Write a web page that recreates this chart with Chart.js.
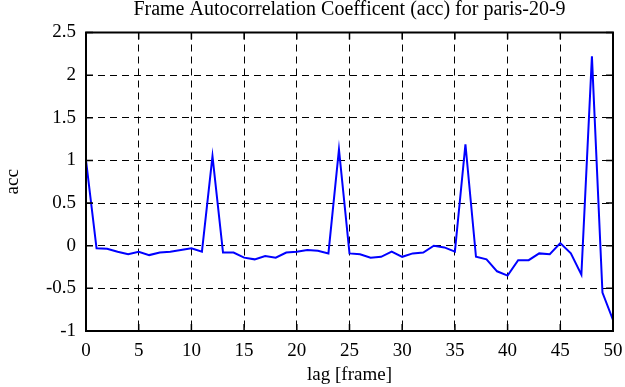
<!DOCTYPE html>
<html>
<head>
<meta charset="utf-8">
<script src="https://cdn.jsdelivr.net/npm/chart.js@4/dist/chart.umd.min.js"></script>
<style>
  html, body { margin: 0; padding: 0; background: #fff; }
  #wrap { width: 625px; height: 387px; }
</style>
</head>
<body>
<div id="wrap"><canvas id="accChart" width="625" height="387"></canvas></div>
<script>
// lag values (frames) and autocorrelation
var lags = [0, 1, 2, 3, 4, 5, 6, 7, 8, 9, 10, 11, 12, 13, 14, 15, 16, 17, 18, 19, 20,
            21, 22, 23, 24, 25, 26, 27, 28, 29, 30, 31, 32, 33, 34, 35, 36, 37, 38, 39, 40,
            41, 42, 43, 44, 45, 46, 47, 48, 49, 50]
var acc = [1.0, -0.03, -0.035, -0.07, -0.1, -0.07, -0.11, -0.08, -0.07, -0.05, -0.03,
           -0.07, 1.05, -0.08, -0.08, -0.14, -0.16, -0.12, -0.14, -0.08, -0.07,
           -0.05, -0.06, -0.09, 1.13, -0.09, -0.1, -0.14, -0.13, -0.07, -0.13,
           -0.09, -0.08, 0.0, -0.02, -0.07, 1.19, -0.13, -0.16, -0.3, -0.35,
           -0.17, -0.17, -0.09, -0.1, 0.03, -0.09, -0.34, 2.22, -0.55, -0.87]
var xTicks = [0, 5, 10, 15, 20, 25, 30, 35, 40, 45, 50]
var yTicks = [-1, -0.5, 0, 0.5, 1, 1.5, 2, 2.5]
var chartTitle = 'Frame Autocorrelation Coefficent (acc) for paris-20-9'

var fontFamily = "'Liberation Serif', 'Times New Roman', serif"
var serif = { family: fontFamily, size: 19, weight: 'normal' }

var points = lags.map(function (l, i) { return { x: l, y: acc[i] } })

// frame around the plot area, inward tick marks on all four sides,
// and the title centred over the plot area (not the whole canvas)
var framePlugin = {
  id: 'frame',
  afterDraw: function (chart) {
    var ctx = chart.ctx
    var a = chart.chartArea
    var xs = chart.scales.x
    var ys = chart.scales.y
    var len = 7
    ctx.save()
    ctx.strokeStyle = '#000'
    ctx.lineWidth = 2
    ctx.setLineDash([])
    ctx.strokeRect(a.left, a.top, a.right - a.left, a.bottom - a.top)
    ctx.lineWidth = 1.5
    ctx.beginPath()
    xTicks.forEach(function (v) {
      var px = xs.getPixelForValue(v)
      ctx.moveTo(px, a.bottom); ctx.lineTo(px, a.bottom - len)
      ctx.moveTo(px, a.top); ctx.lineTo(px, a.top + len)
    })
    yTicks.forEach(function (v) {
      var py = ys.getPixelForValue(v)
      ctx.moveTo(a.left, py); ctx.lineTo(a.left + len, py)
      ctx.moveTo(a.right, py); ctx.lineTo(a.right - len, py)
    })
    ctx.stroke()

    ctx.fillStyle = '#000'
    ctx.font = '20px ' + fontFamily
    ctx.textAlign = 'center'
    ctx.textBaseline = 'alphabetic'
    ctx.fillText(chartTitle, (a.left + a.right) / 2, 15)
    ctx.restore()
  }
}

var accChart = new Chart(document.getElementById('accChart').getContext('2d'), {
  type: 'line',
  data: {
    datasets: [{
      label: 'acc',
      data: points,
      borderColor: '#0000ff',
      backgroundColor: '#0000ff',
      borderWidth: 2,
      pointRadius: 0,
      tension: 0,
      fill: false
    }]
  },
  options: {
    responsive: false,
    animation: false,
    layout: { padding: { top: 32.5, right: 12, bottom: 0, left: 0 } },
    plugins: {
      legend: { display: false },
      tooltip: { enabled: false },
      title: { display: false }
    },
    scales: {
      x: {
        type: 'linear',
        min: 0,
        max: 50,
        afterBuildTicks: function (s) { s.ticks = xTicks.map(function (v) { return { value: v } }) },
        afterFit: function (s) { s.height = 56; s.paddingLeft = 0; s.paddingRight = 0 },
        grid: { color: '#000', lineWidth: 1, drawTicks: false },
        border: { display: false, dash: [7, 5] },
        ticks: { color: '#000', font: serif, padding: 9, maxRotation: 0, autoSkip: false },
        title: { display: true, text: 'lag [frame]', color: '#000', font: serif, padding: { top: 0, bottom: 1 } }
      },
      y: {
        type: 'linear',
        min: -1,
        max: 2.5,
        afterBuildTicks: function (s) { s.ticks = yTicks.map(function (v) { return { value: v } }) },
        afterFit: function (s) { s.width = 86; s.paddingTop = 0; s.paddingBottom = 0 },
        grid: { color: '#000', lineWidth: 1, drawTicks: false },
        border: { display: false, dash: [7, 5] },
        ticks: {
          color: '#000', font: serif, padding: 10, autoSkip: false,
          callback: function (v) { return String(v) }
        },
        title: { display: true, text: 'acc', color: '#000', font: serif, padding: { top: 2, bottom: 0 } }
      }
    }
  },
  plugins: [framePlugin]
})
</script>
</body>
</html>
